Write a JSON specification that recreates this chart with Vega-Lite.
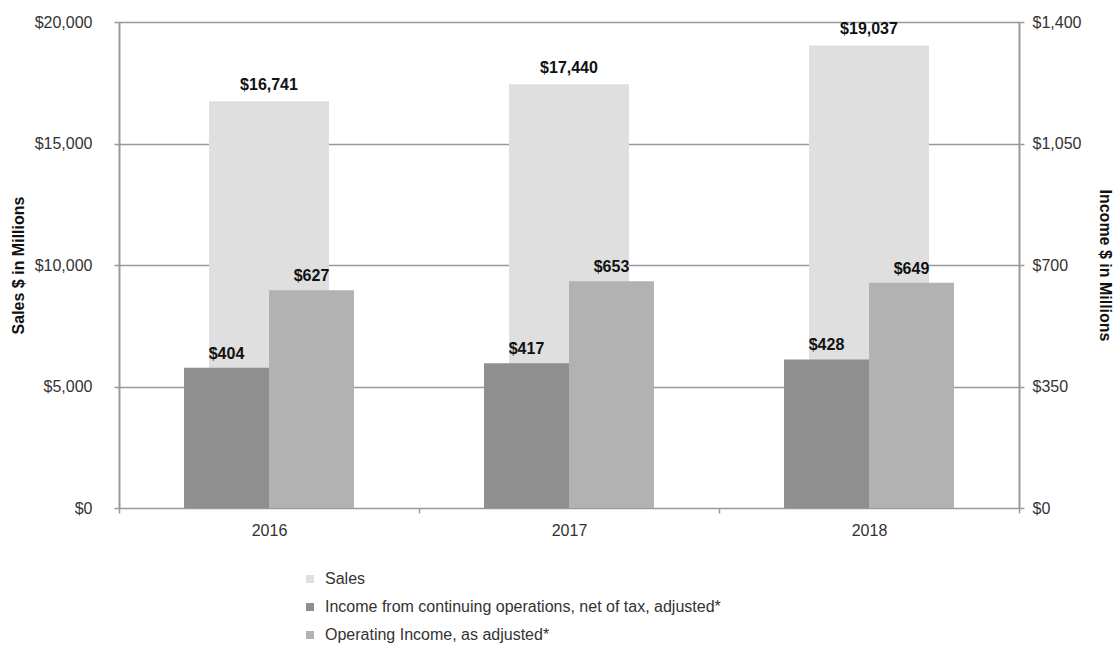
{
  "$schema": "https://vega.github.io/schema/vega-lite/v6.json",
  "autosize": {"type": "none"},
  "padding": {"left": 119, "top": 22, "right": 98, "bottom": 140},
  "width": 900,
  "height": 486,
  "background": "white",
  "config": {
    "view": {"stroke": null},
    "font": "Liberation Sans",
    "axis": {"labelFont": "Liberation Sans", "titleFont": "Liberation Sans", "labelColor": "#333", "titleColor": "#111", "labelFontSize": 16, "titleFontSize": 16, "titleFontWeight": "bold"},
    "legend": {"labelFont": "Liberation Sans"}
  },
  "data": {
    "values": [
      {"year": "2016", "series": "Sales", "value": 16741},
      {"year": "2017", "series": "Sales", "value": 17440},
      {"year": "2018", "series": "Sales", "value": 19037},
      {"year": "2016", "series": "Income from continuing operations, net of tax, adjusted*", "value": 404},
      {"year": "2017", "series": "Income from continuing operations, net of tax, adjusted*", "value": 417},
      {"year": "2018", "series": "Income from continuing operations, net of tax, adjusted*", "value": 428},
      {"year": "2016", "series": "Operating Income, as adjusted*", "value": 627},
      {"year": "2017", "series": "Operating Income, as adjusted*", "value": 653},
      {"year": "2018", "series": "Operating Income, as adjusted*", "value": 649}
    ]
  },
  "encoding": {
    "x": {
      "field": "year", "type": "nominal", "title": null,
      "scale": {"paddingInner": 0, "paddingOuter": 0},
      "axis": {"labelAngle": 0, "tickBand": "extent", "tickColor": "#999", "tickSize": 5, "tickWidth": 1.5, "domain": false, "labelPadding": 9}
    }
  },
  "layer": [
    {
      "transform": [{"filter": "datum.series === 'Sales'"}],
      "encoding": {
        "y": {
          "field": "value", "type": "quantitative",
          "title": "Sales $ in Millions",
          "scale": {"domain": [0, 20000], "nice": false},
          "axis": {"orient": "left", "values": [0, 5000, 10000, 15000, 20000], "format": "$,.0f", "grid": true, "gridColor": "#999", "gridWidth": 1.5, "domainColor": "#999", "domainWidth": 2, "tickColor": "#999", "tickWidth": 1.5, "tickSize": 5, "labelPadding": 22, "titlePadding": 8}
        }
      },
      "layer": [
        {
          "mark": {"type": "bar", "width": {"band": 0.4}},
          "encoding": {
            "color": {
              "field": "series", "type": "nominal",
              "scale": {
                "domain": ["Sales", "Income from continuing operations, net of tax, adjusted*", "Operating Income, as adjusted*"],
                "range": ["#dfdfdf", "#8f8f8f", "#b2b2b2"]
              },
              "legend": {
                "orient": "none", "legendX": 183, "legendY": 549, "title": null, "direction": "vertical",
                "symbolType": "square", "symbolSize": 64, "symbolStrokeWidth": 0,
                "labelFontSize": 16, "labelColor": "#333", "labelLimit": 800, "rowPadding": 12, "labelOffset": 7
              }
            }
          }
        },
        {
          "mark": {"type": "text", "dy": -8, "baseline": "bottom", "fontWeight": "bold", "fontSize": 16, "color": "#111"},
          "encoding": {"text": {"field": "value", "type": "quantitative", "format": "$,.0f"}}
        }
      ]
    },
    {
      "transform": [{"filter": "datum.series !== 'Sales'"}],
      "encoding": {
        "y": {
          "field": "value", "type": "quantitative",
          "title": "Income $ in Millions",
          "scale": {"domain": [0, 1400], "nice": false},
          "axis": {"orient": "right", "values": [0, 350, 700, 1050, 1400], "format": "$,.0f", "grid": false, "domainColor": "#999", "domainWidth": 2, "tickColor": "#999", "tickWidth": 1.5, "tickSize": 5, "labelPadding": 8, "titleAngle": 90, "titlePadding": 16}
        },
        "xOffset": {
          "field": "series", "type": "nominal",
          "scale": {"domain": ["Income from continuing operations, net of tax, adjusted*", "Operating Income, as adjusted*"], "paddingInner": 0, "paddingOuter": 0.765}
        }
      },
      "layer": [
        {
          "mark": {"type": "bar"},
          "encoding": {"color": {"field": "series", "type": "nominal"}}
        },
        {
          "mark": {"type": "text", "dy": -6, "baseline": "bottom", "fontWeight": "bold", "fontSize": 16, "color": "#111"},
          "encoding": {"text": {"field": "value", "type": "quantitative", "format": "$,.0f"}}
        }
      ]
    }
  ],
  "resolve": {"scale": {"y": "independent"}}
}
